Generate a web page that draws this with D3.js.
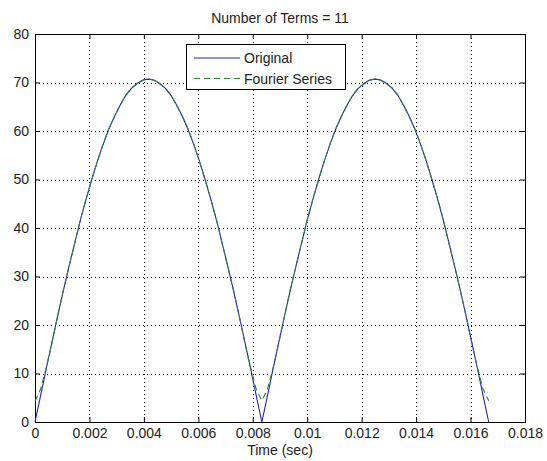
<!DOCTYPE html>
<html>
<head>
<meta charset="utf-8">
<script src="https://cdn.jsdelivr.net/npm/d3@7"></script>
<style>
  body { margin: 0; background: #fff; }
  text { font-family: "Liberation Sans", Arial, sans-serif; fill: #222; }
</style>
</head>
<body>
<svg id="chart" width="547" height="461"></svg>
<script>
// time samples (sec)
const timeSec = [0, 0.000208, 0.000417, 0.000625, 0.000833, 0.001042, 0.00125, 0.001458, 0.001667, 0.001875,
  0.002083, 0.002292, 0.0025, 0.002708, 0.002917, 0.003125, 0.003333, 0.003542, 0.00375, 0.003958,
  0.004167, 0.004375, 0.004583, 0.004792, 0.005, 0.005208, 0.005417, 0.005625, 0.005833, 0.006042,
  0.00625, 0.006458, 0.006667, 0.006875, 0.007083, 0.007292, 0.0075, 0.007708, 0.007917, 0.008125,
  0.008333, 0.008542, 0.00875, 0.008958, 0.009167, 0.009375, 0.009583, 0.009792, 0.01, 0.010208,
  0.010417, 0.010625, 0.010833, 0.011042, 0.01125, 0.011458, 0.011667, 0.011875, 0.012083, 0.012292,
  0.0125, 0.012708, 0.012917, 0.013125, 0.013333, 0.013542, 0.01375, 0.013958, 0.014167, 0.014375,
  0.014583, 0.014792, 0.015, 0.015208, 0.015417, 0.015625, 0.015833, 0.016042, 0.01625, 0.016458,
  0.016667];

// rectified signal
const original = [0, 5.5, 11.1, 16.5, 21.9, 27.1, 32.1, 36.9, 41.6, 45.9,
  50.0, 53.8, 57.2, 60.3, 63.0, 65.3, 67.3, 68.8, 69.8, 70.5,
  70.7, 70.5, 69.8, 68.8, 67.3, 65.3, 63.0, 60.3, 57.2, 53.8,
  50.0, 45.9, 41.6, 36.9, 32.1, 27.1, 21.9, 16.5, 11.1, 5.5,
  0, 5.5, 11.1, 16.5, 21.9, 27.1, 32.1, 36.9, 41.6, 45.9,
  50.0, 53.8, 57.2, 60.3, 63.0, 65.3, 67.3, 68.8, 69.8, 70.5,
  70.7, 70.5, 69.8, 68.8, 67.3, 65.3, 63.0, 60.3, 57.2, 53.8,
  50.0, 45.9, 41.6, 36.9, 32.1, 27.1, 21.9, 16.5, 11.1, 5.5,
  0];

// 11-term approximation (green dashed), rounded off near the cusps
const fourier = [4.3, 6.8, 11.3, 16.3, 21.9, 27.2, 32.0, 36.8, 41.7, 46.0,
  49.9, 53.7, 57.3, 60.4, 62.9, 65.2, 67.4, 68.9, 69.7, 70.4,
  70.8, 70.4, 69.7, 68.9, 67.4, 65.2, 62.9, 60.4, 57.3, 53.7,
  49.9, 46.0, 41.7, 36.8, 32.0, 27.2, 21.9, 16.3, 11.3, 6.8,
  4.4, 6.8, 11.3, 16.3, 21.9, 27.2, 32.0, 36.8, 41.7, 46.0,
  49.9, 53.7, 57.3, 60.4, 62.9, 65.2, 67.4, 68.9, 69.7, 70.4,
  70.8, 70.4, 69.7, 68.9, 67.4, 65.2, 62.9, 60.4, 57.3, 53.7,
  49.9, 46.0, 41.7, 36.8, 32.0, 27.2, 21.9, 16.3, 11.3, 6.8,
  4.4];

const xTicks = [0, 0.002, 0.004, 0.006, 0.008, 0.01, 0.012, 0.014, 0.016, 0.018];
const xTickLabels = ["0", "0.002", "0.004", "0.006", "0.008", "0.01", "0.012", "0.014", "0.016", "0.018"];
const yTicks = [0, 10, 20, 30, 40, 50, 60, 70, 80];

const seriesNames = ["Original", "Fourier Series"];
const titleText = "Number of Terms = 11";
const xLabelText = "Time (sec)";

const padL = 35, padR = 525, padT = 34, padB = 422;
const fontSize = 14;

let svg = d3.select("#chart");

let x = d3.scaleLinear().domain([0, 0.018]).range([padL, padR]);
let y = d3.scaleLinear().domain([0, 80]).range([padB, padT]);

// grid
let grid = svg.append("g").attr("stroke", "#000").attr("stroke-width", 1)
    .attr("stroke-dasharray", "1,3").attr("shape-rendering", "crispEdges");
grid.selectAll(".gx").data(xTicks.slice(1, -1)).enter().append("line")
    .attr("x1", d => Math.round(x(d)) + 0.5).attr("x2", d => Math.round(x(d)) + 0.5)
    .attr("y1", padT).attr("y2", padB);
grid.selectAll(".gy").data(yTicks.slice(1, -1)).enter().append("line")
    .attr("y1", d => Math.round(y(d)) + 0.5).attr("y2", d => Math.round(y(d)) + 0.5)
    .attr("x1", padL).attr("x2", padR);

// axes, ticks inside, on all four sides like matlab box on
let xAxisB = d3.axisBottom(x).tickValues(xTicks).tickSizeInner(-5).tickSizeOuter(0)
    .tickFormat((d, i) => xTickLabels[i]).tickPadding(6);
let xAxisT = d3.axisTop(x).tickValues(xTicks).tickSizeInner(-5).tickSizeOuter(0).tickFormat("");
let yAxisL = d3.axisLeft(y).tickValues(yTicks).tickSizeInner(-5).tickSizeOuter(0).tickPadding(6);
let yAxisR = d3.axisRight(y).tickValues(yTicks).tickSizeInner(-5).tickSizeOuter(0).tickFormat("");

function styleAxis(g) {
    g.select(".domain").remove();
    g.selectAll("line").attr("stroke", "#000");
    g.selectAll("text").attr("font-size", fontSize).attr("fill", "#222")
        .attr("font-family", "'Liberation Sans', Arial, sans-serif");
}
svg.append("g").attr("transform", `translate(0,${padB})`).call(xAxisB).call(styleAxis);
svg.append("g").attr("transform", `translate(0,${padT})`).call(xAxisT).call(styleAxis);
svg.append("g").attr("transform", `translate(${padL},0)`).call(yAxisL).call(styleAxis);
svg.append("g").attr("transform", `translate(${padR},0)`).call(yAxisR).call(styleAxis);

svg.append("rect").attr("x", padL + 0.5).attr("y", padT + 0.5)
    .attr("width", padR - padL).attr("height", padB - padT)
    .attr("fill", "none").attr("stroke", "#000").attr("shape-rendering", "crispEdges");

// curves
let line = d3.line().x(d => x(d[0])).y(d => y(d[1]));
svg.append("path").datum(timeSec.map((t, i) => [t, original[i]]))
    .attr("d", line).attr("fill", "none").attr("stroke", "#2323b4").attr("stroke-width", 1.1);
svg.append("path").datum(timeSec.map((t, i) => [t, fourier[i]]))
    .attr("d", line).attr("fill", "none").attr("stroke", "#2a8a2a").attr("stroke-width", 1.1)
    .attr("stroke-dasharray", "6,4");

// legend
let lg = svg.append("g");
lg.append("rect").attr("x", 186.5).attr("y", 44.5).attr("width", 159).attr("height", 45)
    .attr("fill", "#fff").attr("stroke", "#000").attr("shape-rendering", "crispEdges");
const legendColors = ["#2323b4", "#2a8a2a"];
const legendDash = [null, "6,4"];
seriesNames.forEach(function (name, i) {
    let yy = 58 + i * 20.5;
    lg.append("line").attr("x1", 194).attr("x2", 240).attr("y1", yy).attr("y2", yy)
        .attr("stroke", legendColors[i]).attr("stroke-width", 1.1)
        .attr("stroke-dasharray", legendDash[i]);
    lg.append("text").attr("x", 244).attr("y", yy + 5).attr("font-size", fontSize).text(name);
});

// title and x label
svg.append("text").attr("x", (padL + padR) / 2).attr("y", 23).attr("text-anchor", "middle")
    .attr("font-size", fontSize).text(titleText);
svg.append("text").attr("x", (padL + padR) / 2).attr("y", 455).attr("text-anchor", "middle")
    .attr("font-size", fontSize).text(xLabelText);
</script>
</body>
</html>
